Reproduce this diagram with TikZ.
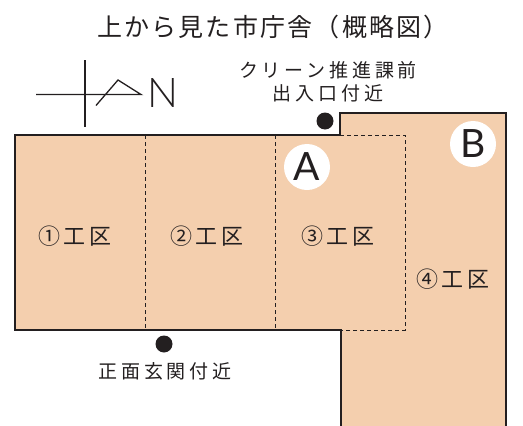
\documentclass[tikz,border=0pt]{standalone}
\usepackage{fontspec}
\setmainfont{Noto Sans CJK JP}
\newfontfamily\titlefont[LetterSpace=9]{Noto Sans CJK JP}
\newfontfamily\labelfont[LetterSpace=20]{Noto Sans CJK JP}
\newfontfamily\kokufont[LetterSpace=15]{Noto Sans CJK JP}
\newfontfamily\thinfont{Lato Light}
\newfontfamily\letterfont{Lato}
\definecolor{floorcolor}{HTML}{F4CFAE}
\definecolor{inkcolor}{HTML}{231F20}
\tikzset{
  koku/.style={inner sep=0pt, font=\fontsize{22}{22}\kokufont},
  place/.style={inner sep=0pt, align=center, font=\fontsize{19}{23}\labelfont},
  mark letter/.style={circle, fill=white, minimum size=46pt, inner sep=0pt, font=\fontsize{39}{39}\letterfont},
  spot/.style={circle, fill=inkcolor, minimum size=17pt, inner sep=0pt},
}
\begin{document}
\begin{tikzpicture}[x=1pt, y=-1pt, color=inkcolor]
    \useasboundingbox (0, 0) rectangle (523, 426);

    \fill[floorcolor] (15, 135) -- (340, 135) -- (340, 113) -- (506, 113) -- (506, 426) -- (341, 426) -- (341, 330) -- (15, 330) -- cycle;
    \draw[line width=1.6pt] (341, 426) -- (341, 330) -- (15, 330) -- (15, 135) -- (340, 135) -- (340, 113) -- (506, 113) -- (506, 426);

    \draw[line width=0.9pt, dash pattern=on 4pt off 3pt] (145, 135) -- (145, 330);
    \draw[line width=0.9pt, dash pattern=on 4pt off 3pt] (275, 135) -- (275, 330);
    \draw[line width=0.9pt, dash pattern=on 4pt off 3pt] (340, 135) -- (405, 135) -- (405, 330) -- (341, 330);

    % north mark
    \draw[line width=1.3pt] (85, 60) -- (85, 127);
    \draw[line width=1.3pt] (36, 94.5) -- (141, 94.5) -- (118, 80) -- (96, 105.5);
    \node[inner sep=0pt, font=\fontsize{41}{41}\thinfont] (north) at (162.5, 93) {N};

    \node[inner sep=0pt, font=\fontsize{25}{25}\titlefont] (title) at (273, 27) {上から見た市庁舎（概略図）};

    \node[place] (backdoor) at (328, 82) {クリーン推進課前\\出入口付近};
    \node[spot] (backspot) at (325, 121) {};
    \node[spot] (frontspot) at (164, 344) {};
    \node[place] (frontdoor) at (165, 371) {正面玄関付近};

    \node[mark letter] (marka) at (307, 167) {A};
    \node[mark letter] (markb) at (473, 144) {B};

    \node[koku] (koku1) at (75, 236) {①工区};
    \node[koku] (koku2) at (207, 236) {②工区};
    \node[koku] (koku3) at (338, 236) {③工区};
    \node[koku] (koku4) at (453, 279) {④工区};
\end{tikzpicture}
\end{document}
